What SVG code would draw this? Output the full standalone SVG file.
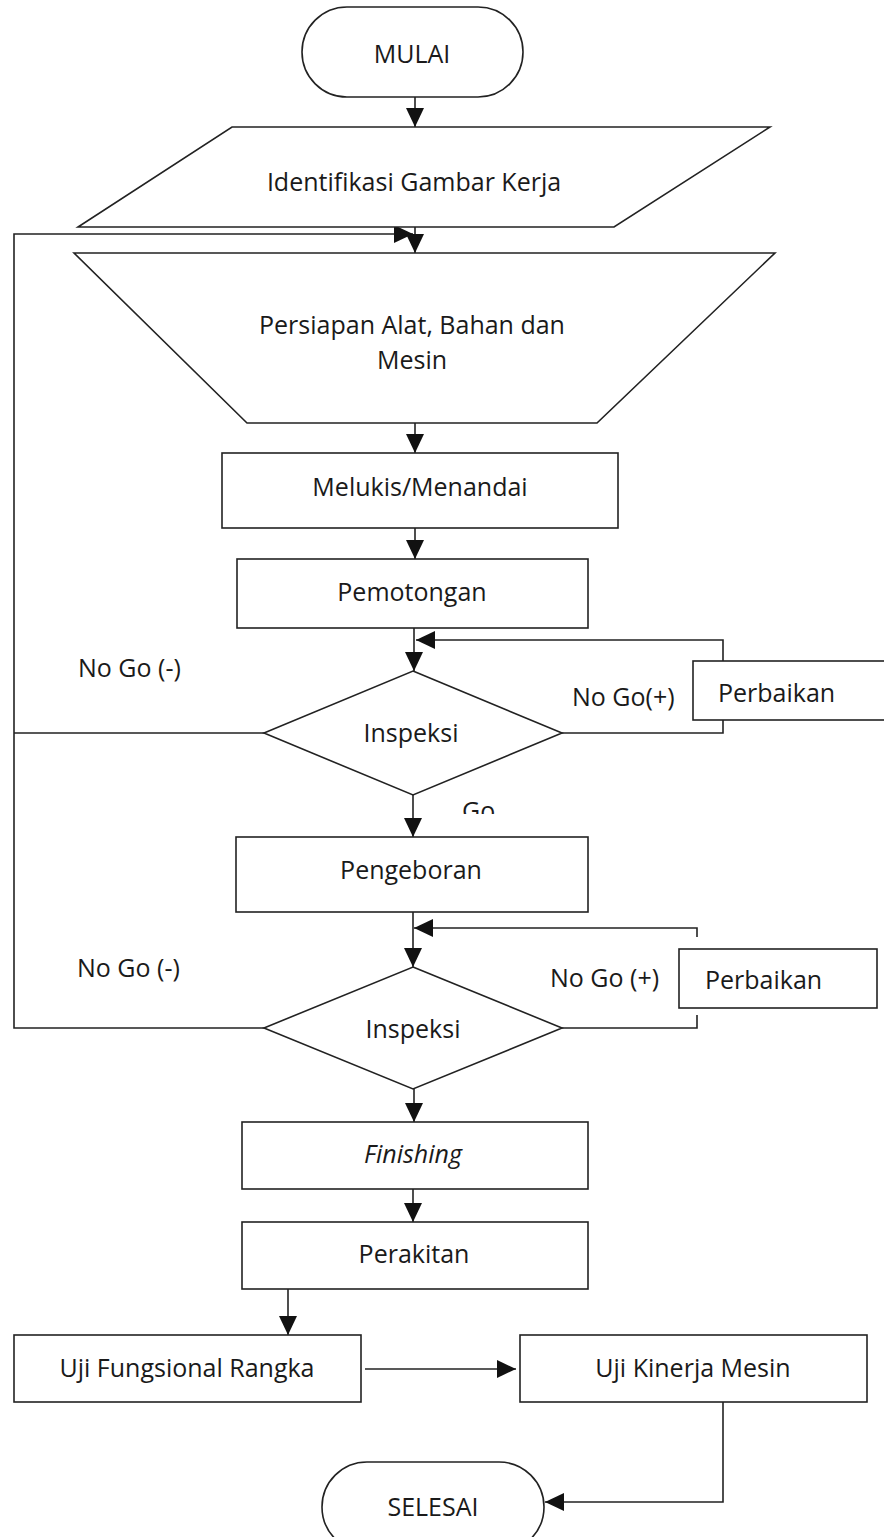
<svg xmlns="http://www.w3.org/2000/svg" width="884" height="1537" viewBox="0 0 884 1537">
<style>
.s{fill:#fff;stroke:#222;stroke-width:1.6}
.c{fill:none;stroke:#222;stroke-width:1.6}
.t{font-family:"Open Sans","Noto Sans",sans-serif;font-size:25px;fill:#1a1a1a}
.m{text-anchor:middle}
</style>
<defs>
<marker id="ah" markerUnits="userSpaceOnUse" markerWidth="19" markerHeight="18" refX="19" refY="9" orient="auto">
<path d="M0,0 L19,9 L0,18 z" fill="#111"/>
</marker>
<clipPath id="goclip"><rect x="440" y="790" width="80" height="24"/></clipPath>
</defs>
<rect width="884" height="1537" fill="#fff"/>
<g id="connectors">
<line class="c" x1="415" y1="97" x2="415" y2="127" marker-end="url(#ah)"/>
<path class="c" d="M264,733 H14 M264,1028 H14 V234 H413" marker-end="url(#ah)"/>
<line class="c" x1="415" y1="227" x2="415" y2="253" marker-end="url(#ah)"/>
<line class="c" x1="415" y1="423" x2="415" y2="453" marker-end="url(#ah)"/>
<line class="c" x1="415" y1="528" x2="415" y2="559" marker-end="url(#ah)"/>
<line class="c" x1="414" y1="628" x2="414" y2="671" marker-end="url(#ah)"/>
<path class="c" d="M562,733 H723 V720"/>
<path class="c" d="M723,661 V640 H416" marker-end="url(#ah)"/>
<line class="c" x1="413" y1="795" x2="413" y2="837" marker-end="url(#ah)"/>
<line class="c" x1="413" y1="912" x2="413" y2="967" marker-end="url(#ah)"/>
<path class="c" d="M562,1028 H697 V1015"/>
<path class="c" d="M697,937 V928 H414" marker-end="url(#ah)"/>
<line class="c" x1="414" y1="1089" x2="414" y2="1122" marker-end="url(#ah)"/>
<line class="c" x1="413" y1="1189" x2="413" y2="1222" marker-end="url(#ah)"/>
<line class="c" x1="288" y1="1289" x2="288" y2="1335" marker-end="url(#ah)"/>
<line class="c" x1="365" y1="1369" x2="516" y2="1369" marker-end="url(#ah)"/>
<path class="c" d="M723,1402 V1502 H545" marker-end="url(#ah)"/>
</g>
<g id="mulai">
<rect class="s" x="302" y="7" width="221" height="90" rx="45"/>
<text class="t m" x="412" y="63">MULAI</text>
</g>
<g id="identifikasi">
<polygon class="s" points="232,127 770,127 614,227 78,227"/>
<text class="t m" x="414" y="191">Identifikasi Gambar Kerja</text>
</g>
<g id="persiapan">
<polygon class="s" points="74,253 775,253 597,423 247,423"/>
<text class="t m" x="412" y="334">Persiapan Alat, Bahan dan</text>
<text class="t m" x="412" y="369">Mesin</text>
</g>
<g id="melukis">
<rect class="s" x="222" y="453" width="396" height="75"/>
<text class="t m" x="420" y="496">Melukis/Menandai</text>
</g>
<g id="pemotongan">
<rect class="s" x="237" y="559" width="351" height="69"/>
<text class="t m" x="412" y="601">Pemotongan</text>
</g>
<g id="inspeksi1">
<polygon class="s" points="413,671 562,733 413,795 264,733"/>
<text class="t m" x="411" y="742">Inspeksi</text>
</g>
<g id="perbaikan1">
<rect class="s" x="693" y="661" width="200" height="59"/>
<text class="t" x="718" y="702">Perbaikan</text>
</g>
<g id="pengeboran">
<rect class="s" x="236" y="837" width="352" height="75"/>
<text class="t m" x="411" y="879">Pengeboran</text>
</g>
<g id="inspeksi2">
<polygon class="s" points="413,967 562,1028 413,1089 264,1028"/>
<text class="t m" x="413" y="1038">Inspeksi</text>
</g>
<g id="perbaikan2">
<rect class="s" x="679" y="949" width="198" height="59"/>
<text class="t" x="705" y="989">Perbaikan</text>
</g>
<g id="finishing">
<rect class="s" x="242" y="1122" width="346" height="67"/>
<text class="t m" x="413" y="1163" font-style="italic">Finishing</text>
</g>
<g id="perakitan">
<rect class="s" x="242" y="1222" width="346" height="67"/>
<text class="t m" x="414" y="1263">Perakitan</text>
</g>
<g id="ujifungsional">
<rect class="s" x="14" y="1335" width="347" height="67"/>
<text class="t m" x="187" y="1377">Uji Fungsional Rangka</text>
</g>
<g id="ujikinerja">
<rect class="s" x="520" y="1335" width="347" height="67"/>
<text class="t m" x="693" y="1377">Uji Kinerja Mesin</text>
</g>
<g id="selesai">
<rect class="s" x="322" y="1462" width="222" height="90" rx="45"/>
<text class="t m" x="433" y="1516">SELESAI</text>
</g>
<g id="labels">
<text class="t" x="78" y="677">No Go (-)</text>
<text class="t" x="572" y="706">No Go(+)</text>
<text class="t" x="462" y="820" clip-path="url(#goclip)">Go</text>
<text class="t" x="77" y="977">No Go (-)</text>
<text class="t" x="550" y="987">No Go (+)</text>
</g>
</svg>
